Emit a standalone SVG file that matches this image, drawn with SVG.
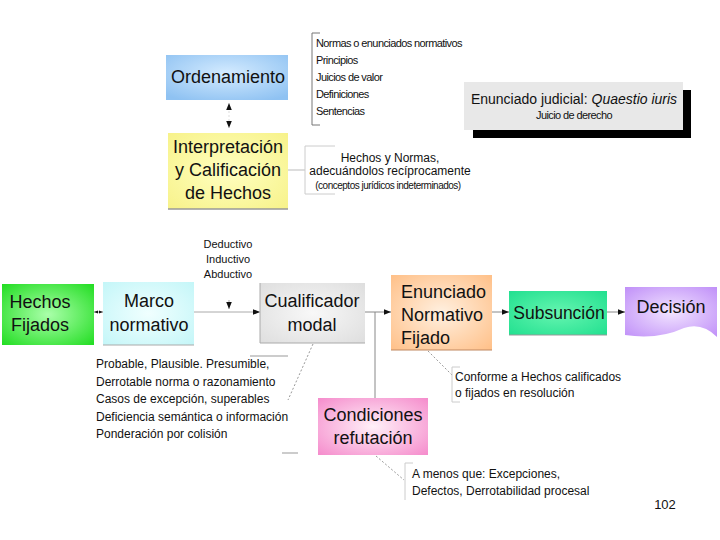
<svg xmlns="http://www.w3.org/2000/svg" width="720" height="540" viewBox="0 0 720 540">
<style>
.lbl{font-family:"Liberation Sans",Arial,sans-serif;font-size:18px;fill:#111;text-anchor:middle}
.lft{text-anchor:start}
.sm{font-family:"Liberation Sans",Arial,sans-serif;font-size:11px;fill:#111}
.mid{text-anchor:middle}
.note{font-family:"Liberation Sans",Arial,sans-serif;font-size:12px;fill:#111}
.ln{stroke:#888;stroke-width:1;fill:none}
.dot{stroke:#999;stroke-width:1;fill:none;stroke-dasharray:2,2}
.br{stroke:#999;stroke-width:1;fill:none}
.brl{stroke:#ccc;stroke-width:1;fill:none}
.arr{stroke:#aaa;stroke-width:1;fill:none}
</style>
<defs>
<marker id="ah" viewBox="0 0 10 10" refX="10" refY="5" markerWidth="7" markerHeight="7" orient="auto-start-reverse" markerUnits="userSpaceOnUse">
<path d="M0,1 L10,5 L0,9 Z" fill="#111"/>
</marker>
<marker id="ahs" viewBox="0 0 10 10" refX="10" refY="5" markerWidth="4" markerHeight="5" orient="auto-start-reverse" markerUnits="userSpaceOnUse">
<path d="M0,1 L10,5 L0,9 Z" fill="#111"/>
</marker>
<radialGradient id="gBlue" cx="50%" cy="40%" r="70%"><stop offset="0" stop-color="#d4ebff"/><stop offset="1" stop-color="#8fc2f2"/></radialGradient>
<radialGradient id="gYel" cx="50%" cy="50%" r="70%"><stop offset="0" stop-color="#ffffc0"/><stop offset="1" stop-color="#f7f28a"/></radialGradient>
<radialGradient id="gGreen" cx="50%" cy="50%" r="70%"><stop offset="0" stop-color="#aaffaa"/><stop offset="1" stop-color="#22dd22"/></radialGradient>
<radialGradient id="gCyan" cx="50%" cy="50%" r="70%"><stop offset="0" stop-color="#f0ffff"/><stop offset="1" stop-color="#c4f6f8"/></radialGradient>
<radialGradient id="gGray" cx="50%" cy="50%" r="70%"><stop offset="0" stop-color="#f8f8f8"/><stop offset="1" stop-color="#dedede"/></radialGradient>
<radialGradient id="gOr" cx="50%" cy="50%" r="70%"><stop offset="0" stop-color="#fff0e0"/><stop offset="1" stop-color="#ffc088"/></radialGradient>
<radialGradient id="gTeal" cx="50%" cy="50%" r="70%"><stop offset="0" stop-color="#66f5b0"/><stop offset="1" stop-color="#22e090"/></radialGradient>
<radialGradient id="gPur" cx="50%" cy="50%" r="70%"><stop offset="0" stop-color="#f2e4ff"/><stop offset="1" stop-color="#c090f8"/></radialGradient>
<radialGradient id="gPink" cx="50%" cy="50%" r="70%"><stop offset="0" stop-color="#fff0f8"/><stop offset="1" stop-color="#f58ccc"/></radialGradient>
</defs>
<rect width="720" height="540" fill="#fff"/>

<g id="connectors">
<line class="dot" x1="229" y1="103" x2="229" y2="128" style="stroke:#ddd" marker-start="url(#ah)" marker-end="url(#ah)"/>
<line class="ln" x1="288" y1="170" x2="305" y2="170" style="stroke:#bbb"/>
<line class="arr" x1="94" y1="312" x2="103" y2="312" marker-start="url(#ahs)" marker-end="url(#ahs)"/>
<line class="ln" x1="194" y1="312" x2="260" y2="312" style="stroke:#aaa" marker-end="url(#ah)"/>
<line class="arr" x1="229" y1="300" x2="229" y2="309" marker-end="url(#ah)"/>
<line class="ln" x1="365" y1="312" x2="391" y2="312" marker-end="url(#ah)"/>
<line class="ln" x1="375" y1="312" x2="375" y2="398"/>
<line class="ln" x1="492" y1="312" x2="509" y2="312" marker-end="url(#ah)"/>
<line class="ln" x1="607" y1="312" x2="625" y2="312" marker-end="url(#ah)"/>
<line class="dot" x1="313" y1="344" x2="288" y2="400"/>
<line class="dot" x1="428" y1="351" x2="452" y2="375"/>
<line class="dot" x1="376" y1="456" x2="404" y2="480"/>
</g>

<g id="ordenamiento">
<rect x="166" y="55" width="122" height="45" fill="url(#gBlue)"/>
<text class="lbl" x="228" y="83">Ordenamiento</text>
</g>

<g id="normas-list">
<path class="br" style="stroke:#777" d="M320,33 H312 V125 H320"/>
<text class="sm" x="316" y="47" letter-spacing="-0.6">Normas o enunciados normativos</text>
<text class="sm" x="316" y="64" letter-spacing="-0.6">Principios</text>
<text class="sm" x="316" y="81" letter-spacing="-0.6">Juicios de valor</text>
<text class="sm" x="316" y="98" letter-spacing="-0.6">Definiciones</text>
<text class="sm" x="316" y="115" letter-spacing="-0.6">Sentencias</text>
</g>

<g id="enunciado-judicial">
<rect x="473" y="90" width="218" height="48" fill="#000"/>
<rect x="464" y="82" width="219" height="48" fill="#e8e8e8"/>
<text x="574" y="104" font-family="'Liberation Sans',Arial,sans-serif" font-size="14" fill="#111" text-anchor="middle">Enunciado judicial: <tspan font-style="italic">Quaestio iuris</tspan></text>
<text class="sm mid" x="574" y="119" letter-spacing="-0.6">Juicio de derecho</text>
</g>

<g id="interpretacion">
<rect x="168" y="133" width="120" height="76" fill="url(#gYel)"/>
<line x1="168" y1="209" x2="288" y2="209" stroke="#999" stroke-width="1.5"/>
<text class="lbl" x="228" y="153">Interpretación</text>
<text class="lbl" x="228" y="176">y Calificación</text>
<text class="lbl" x="228" y="199">de Hechos</text>
</g>

<g id="hechos-normas-note">
<path class="brl" d="M335,146 H305 V194 H335"/>
<text class="note mid" x="390" y="162">Hechos y Normas,</text>
<text class="note mid" x="390" y="175">adecuándolos recíprocamente</text>
<text class="sm mid" x="388" y="189" style="font-size:10px" letter-spacing="-0.5">(conceptos jurídicos indeterminados)</text>
</g>

<g id="razonamiento-note">
<text class="sm mid" x="228" y="248">Deductivo</text>
<text class="sm mid" x="228" y="263">Inductivo</text>
<text class="sm mid" x="228" y="278">Abductivo</text>
</g>

<g id="hechos-fijados">
<rect x="2" y="284" width="92" height="61" fill="url(#gGreen)"/>
<text class="lbl" x="40" y="308">Hechos</text>
<text class="lbl" x="40" y="331">Fijados</text>
</g>

<g id="marco-normativo">
<rect x="103" y="282" width="91" height="63" fill="url(#gCyan)"/>
<line x1="103" y1="345" x2="194" y2="345" stroke="#aaa" stroke-width="1"/>
<text class="lbl" x="149" y="307">Marco</text>
<text class="lbl" x="149" y="331">normativo</text>
</g>

<g id="cualificador-modal">
<rect x="260" y="283" width="105" height="60" fill="url(#gGray)"/>
<line x1="260" y1="283" x2="260" y2="343" stroke="#aaa"/>
<line x1="260" y1="343" x2="365" y2="343" stroke="#aaa"/>
<text class="lbl" x="312" y="307">Cualificador</text>
<text class="lbl" x="312" y="331">modal</text>
</g>

<g id="enunciado-normativo">
<rect x="391" y="275" width="101" height="75" fill="url(#gOr)"/>
<line x1="391" y1="350" x2="492" y2="350" stroke="#c08860"/>
<text class="lbl lft" x="401" y="298">Enunciado</text>
<text class="lbl lft" x="401" y="321">Normativo</text>
<text class="lbl lft" x="401" y="344">Fijado</text>
</g>

<g id="subsuncion">
<rect x="509" y="291" width="98" height="44" fill="url(#gTeal)"/>
<line x1="509" y1="335" x2="607" y2="335" stroke="#999"/>
<text class="lbl" x="559" y="319" style="font-size:17.5px">Subsunción</text>
</g>

<g id="decision">
<path d="M625,287 H717 V337 Q702,322 684,328 Q658,340 625,335 Z" fill="url(#gPur)"/>
<text class="lbl" x="671" y="313">Decisión</text>
</g>

<g id="cualificador-note">
<line class="br" x1="250" y1="356" x2="288" y2="356"/>
<line class="br" x1="282" y1="453" x2="298" y2="453"/>
<text class="note" x="96" y="368">Probable, Plausible. Presumible,</text>
<text class="note" x="96" y="386">Derrotable norma o razonamiento</text>
<text class="note" x="96" y="403">Casos de excepción, superables</text>
<text class="note" x="96" y="421">Deficiencia semántica o información</text>
<text class="note" x="96" y="438">Ponderación por colisión</text>
</g>

<g id="condiciones-refutacion">
<rect x="318" y="398" width="110" height="57" fill="url(#gPink)"/>
<text class="lbl" x="373" y="421">Condiciones</text>
<text class="lbl" x="373" y="444">refutación</text>
</g>

<g id="conforme-note">
<path class="brl" d="M460,367 H452 V402 H460"/>
<text class="note" x="455" y="381">Conforme a Hechos calificados</text>
<text class="note" x="455" y="397">o fijados en resolución</text>
</g>

<g id="menos-note">
<path class="brl" d="M413,463 H405 V500"/>
<text class="note" x="412" y="478">A menos que: Excepciones,</text>
<text class="note" x="412" y="495">Defectos, Derrotabilidad procesal</text>
</g>

<text x="665" y="509" font-family="'Liberation Sans',Arial,sans-serif" font-size="13" fill="#111" text-anchor="middle">102</text>
</svg>
